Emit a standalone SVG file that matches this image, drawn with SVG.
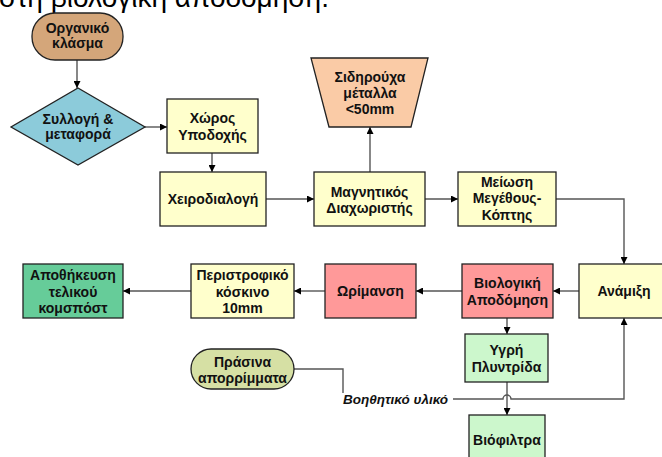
<svg xmlns="http://www.w3.org/2000/svg" width="662" height="457" viewBox="0 0 662 457">
<defs>
<marker id="ah" viewBox="0 0 10 10" refX="10" refY="5" markerWidth="7" markerHeight="7" markerUnits="userSpaceOnUse" orient="auto"><path d="M0,0 L10,5 L0,10 z" fill="#000"/></marker>
<style>
.n{stroke:#222;stroke-width:1.3}
.t{font-family:"Liberation Sans",Arial,sans-serif;font-weight:bold;font-size:14px;fill:#111;text-anchor:middle}
.c{fill:none;stroke:#555;stroke-width:1.4}
.a{marker-end:url(#ah)}
</style>
</defs>
<rect width="662" height="457" fill="#fff"/>
<text x="-1" y="7" font-family="Liberation Sans,Arial,sans-serif" font-size="28" fill="#000">στη βιολογική αποδόμηση.</text>

<g id="connectors">
<path class="c a" d="M77,60 V88"/>
<path class="c a" d="M145,127 H167"/>
<path class="c a" d="M212,153 V172"/>
<path class="c a" d="M266,199 H314"/>
<path class="c a" d="M370,172 V127"/>
<path class="c a" d="M425,199 H458"/>
<path class="c a" d="M556,199 H624 V264"/>
<path class="c a" d="M579,291 H553"/>
<path class="c a" d="M462,291 H416"/>
<path class="c a" d="M325,291 H294"/>
<path class="c a" d="M191,291 H123"/>
<path class="c a" d="M507,318 V334"/>
<path class="c a" d="M507,382 V415"/>
<path class="c" d="M294,369 H343 V393"/>
<path class="c a" d="M453,399 H503 A4,4 0 0 1 511,399 H624 V318"/>
<text x="343" y="404" font-family="Liberation Sans,Arial,sans-serif" font-weight="bold" font-style="italic" font-size="13.5" fill="#111">Βοηθητικό υλικό</text>
</g>

<g id="organiko">
<rect class="n" x="32" y="13" width="91" height="47" rx="23" fill="#D4A67A"/>
<text class="t" x="77.5" y="33">Οργανικό</text>
<text class="t" x="77.5" y="48">κλάσμα</text>
</g>
<g id="syllogi">
<polygon class="n" points="78,88 145,127 78,165 11,127" fill="#8CCBDA"/>
<text class="t" x="78" y="124">Συλλογή &amp;</text>
<text class="t" x="78" y="139">μεταφορά</text>
</g>
<g id="xoros">
<rect class="n" x="167" y="99" width="91" height="54" fill="#FFFFCC"/>
<text class="t" x="212.5" y="123">Χώρος</text>
<text class="t" x="212.5" y="140">Υποδοχής</text>
</g>
<g id="xeirodialogi">
<rect class="n" x="160" y="172" width="106" height="54" fill="#FFFFCC"/>
<text class="t" x="213" y="204">Χειροδιαλογή</text>
</g>
<g id="sidirouxa">
<polygon class="n" points="311,58 428,58 411,127 329,127" fill="#FACBA6"/>
<text class="t" x="370" y="82">Σιδηρούχα</text>
<text class="t" x="370" y="98">μέταλλα</text>
<text class="t" x="370" y="114">&lt;50mm</text>
</g>
<g id="magnitikos">
<rect class="n" x="314" y="172" width="111" height="54" fill="#FFFFCC"/>
<text class="t" x="369.5" y="197">Μαγνητικός</text>
<text class="t" x="369.5" y="213">Διαχωριστής</text>
</g>
<g id="meiosi">
<rect class="n" x="458" y="172" width="98" height="54" fill="#FFFFCC"/>
<text class="t" x="507" y="187">Μείωση</text>
<text class="t" x="507" y="203">Μεγέθους-</text>
<text class="t" x="507" y="220">Κόπτης</text>
</g>
<g id="anamixi">
<rect class="n" x="579" y="264" width="92" height="54" fill="#FFFFCC"/>
<text class="t" x="624" y="296">Ανάμιξη</text>
</g>
<g id="viologiki">
<rect class="n" x="462" y="264" width="91" height="54" fill="#FF9999"/>
<text class="t" x="507.5" y="288">Βιολογική</text>
<text class="t" x="507.5" y="305">Αποδόμηση</text>
</g>
<g id="orimansi">
<rect class="n" x="325" y="264" width="91" height="54" fill="#FF9999"/>
<text class="t" x="370.5" y="296">Ωρίμανση</text>
</g>
<g id="peristrofiko">
<rect class="n" x="191" y="264" width="103" height="54" fill="#FFFFCC"/>
<text class="t" x="242.5" y="280">Περιστροφικό</text>
<text class="t" x="242.5" y="297">κόσκινο</text>
<text class="t" x="242.5" y="313">10mm</text>
</g>
<g id="apothikefsi">
<rect class="n" x="23" y="264" width="100" height="54" fill="#66CC99"/>
<text class="t" x="73" y="280">Αποθήκευση</text>
<text class="t" x="73" y="297">τελικού</text>
<text class="t" x="73" y="313">κομσπόστ</text>
</g>
<g id="ygri">
<rect class="n" x="465" y="334" width="83" height="48" fill="#CCF7CC"/>
<text class="t" x="506.5" y="355">Υγρή</text>
<text class="t" x="506.5" y="372">Πλυντρίδα</text>
</g>
<g id="viofiltra">
<rect class="n" x="469" y="415" width="76" height="50" fill="#CCF7CC"/>
<text class="t" x="507" y="445">Βιόφιλτρα</text>
</g>
<g id="prasina">
<rect class="n" x="191" y="349" width="103" height="40" rx="20" fill="#D6E0A4"/>
<text class="t" x="242.5" y="367">Πράσινα</text>
<text class="t" x="242.5" y="383">απορρίμματα</text>
</g>
</svg>
